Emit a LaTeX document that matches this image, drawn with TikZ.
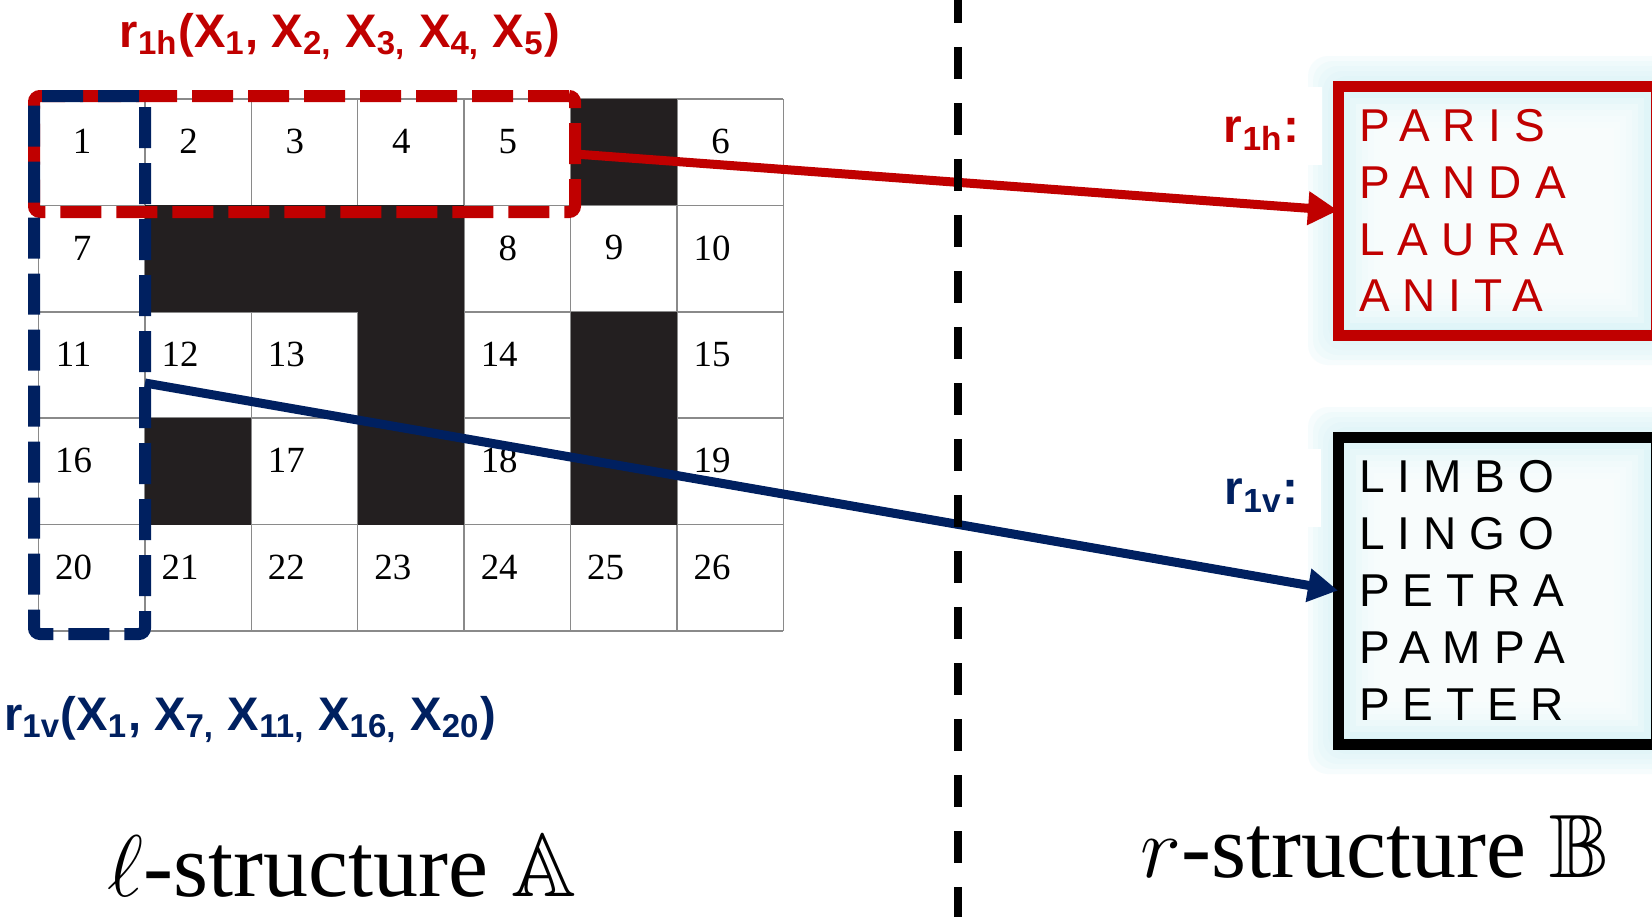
\documentclass[tikz,border=0pt]{standalone}
\usepackage{amssymb}
\usepackage{fontspec}
\setmainfont{Liberation Serif}
\setsansfont{Liberation Sans}
\newfontfamily\wordfont[LetterSpace=28]{Liberation Sans}
\usepackage{tikz}
\usetikzlibrary{arrows.meta, positioning, backgrounds}

\definecolor{hred}{HTML}{C00000}
\definecolor{vblue}{HTML}{002060}
\definecolor{glowc}{HTML}{D6F2F6}
\definecolor{cellblack}{HTML}{231F20}
\definecolor{gridgray}{HTML}{8A8A8A}

\begin{document}
\begin{tikzpicture}[
  >={Triangle[length=3mm,width=3.2mm]},
  cellnum/.style={font=\fontsize{10.5}{12}\selectfont, inner sep=0pt},
  gridline/.style={draw=gridgray, line width=0.43pt},
  rowbox/.style={draw=hred, line width=1.2mm, dash pattern=on 4.1mm off 1.5mm,
    rounded corners=0.6mm, inner sep=0pt, outer sep=0pt},
  colbox/.style={rowbox, draw=vblue},
  wordbox/.style={line width=1.1mm, fill=glowc, inner xsep=2.1mm, inner ysep=0pt,
    outer sep=0pt, text width=27.6mm, align=left,
    font=\wordfont\fontsize{13.1}{16.2}\selectfont,
    path picture={\foreach \i in {1,...,7}
      \fill[white, opacity=0.25]
        ([shift={(\i*0.6mm,\i*0.6mm)}]path picture bounding box.south west) rectangle
        ([shift={(-\i*0.6mm,-\i*0.6mm)}]path picture bounding box.north east);}},
  tag/.style={fill=white, anchor=north east,
    font=\sffamily\bfseries\fontsize{13.6}{16}\selectfont,
    inner xsep=2.3mm, inner ysep=0.7mm, text height=4.9mm, text depth=1.5mm},
  head/.style={font=\sffamily\bfseries\fontsize{13.4}{16}\selectfont, anchor=base},
  caption/.style={font=\fontsize{25.6}{30}\selectfont, anchor=base},
  link/.style={->, line width=0.9mm},
  divider/.style={line width=0.8mm, dash pattern=on 3.2mm off 2.4mm},
]
\useasboundingbox (0,0) rectangle (16.52,9.17);

% crossword grid
\begin{scope}[shift={(0.385,8.18)}, x=1.064cm, y=-1.064cm]
  \foreach \c in {0,...,7}
    \draw[gridline] (\c,0) -- (\c,5);
  \foreach \r in {0,...,5}
    \draw[gridline] (0,\r) -- (7,\r);
  \foreach \c/\r in {5/0,1/1,2/1,3/1,3/2,5/2,1/3,3/3,5/3}
    \fill[cellblack] (\c,\r) rectangle ++(1,1);
  \foreach \n/\c/\r in {1/0/0,2/1/0,3/2/0,4/3/0,5/4/0,6/6/0,
      7/0/1,8/4/1,9/5/1,10/6/1,
      11/0/2,12/1/2,13/2/2,14/4/2,15/6/2,
      16/0/3,17/2/3,18/4/3,19/6/3,
      20/0/4,21/1/4,22/2/4,23/3/4,24/4/4,25/5/4,26/6/4}
    \node[cellnum] (c\n) at ({\c+(\n<10?0.41:0.33)},{\r+0.40}) {\n};
\end{scope}

% constraint scopes
\node[rowbox, minimum width=54.1mm, minimum height=11.6mm] (rowh) at (3.045,7.63) {};
\node[colbox, minimum width=11.1mm, minimum height=53.8mm] (colv) at (0.895,5.52) {};
\node[head, text=hred] (headh) at (3.40,8.70)
  {r\textsubscript{1h}(X\textsubscript{1}, X\textsubscript{2,} X\textsubscript{3,} X\textsubscript{4,} X\textsubscript{5})};
\node[head, text=vblue] (headv) at (2.50,1.87)
  {r\textsubscript{1v}(X\textsubscript{1}, X\textsubscript{7,} X\textsubscript{11,} X\textsubscript{16,} X\textsubscript{20})};

% relations
\node[wordbox, draw=hred, text=hred, minimum height=24.9mm] (boxh) at (14.97,7.065)
  {PARIS\\PANDA\\LAURA\\ANITA};
\node[wordbox, draw=black, minimum height=30.7mm] (boxv) at (14.97,3.265)
  {LIMBO\\LINGO\\PETRA\\PAMPA\\PETER};
\node[tag, text=hred] (tagh) at ([xshift=-1.5mm]boxh.north west) {r\textsubscript{1h}:};
\node[tag, text=vblue] (tagv) at ([xshift=-1.6mm,yshift=-1.1mm]boxv.north west) {r\textsubscript{1v}:};

% glow
\begin{pgfonlayer}{background}
  \fill[white] (0,0) rectangle (16.52,9.17);
  \foreach \b in {boxh,boxv}
    \foreach \g in {1,...,6}
      \fill[glowc, opacity=0.2, rounded corners=2mm]
        ([shift={(-\g*0.5mm,-\g*0.5mm)}]\b.south west) rectangle
        ([shift={(\g*0.5mm,\g*0.5mm)}]\b.north east);
\end{pgfonlayer}

% mappings
\draw[link, hred] (rowh.east) -- (boxh.west);
\draw[link, vblue] ([yshift=-1.8mm]colv.east) -- (boxv.west);

% divider
\draw[divider] (9.58,9.26) -- (9.58,0);

% structures
\node[caption] (capl) at (3.42,0.21) {$\ell$-structure $\mathbb{A}$};
\node[caption] (capr) at (13.75,0.40) {$r$-structure $\mathbb{B}$};
\end{tikzpicture}
\end{document}
